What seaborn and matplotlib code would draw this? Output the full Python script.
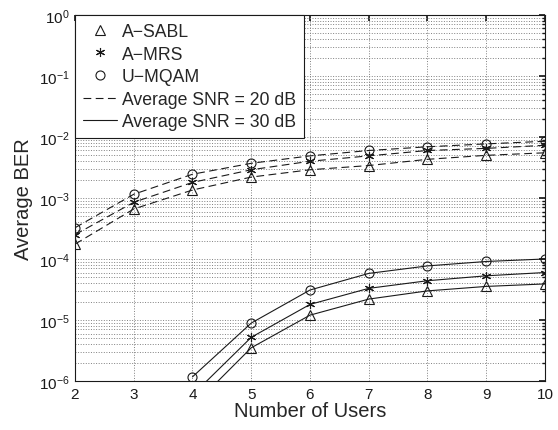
import numpy as np
import pandas as pd
import matplotlib
matplotlib.use("Agg")
import matplotlib.pyplot as plt
import seaborn as sns
from matplotlib.lines import Line2D
from matplotlib.ticker import FixedLocator, NullFormatter, LogFormatterSciNotation

users = [2, 3, 4, 5, 6, 7, 8, 9, 10]
sabl_20 = [1.75e-4, 6.6e-4, 1.35e-3, 2.2e-3, 2.9e-3, 3.4e-3, 4.3e-3, 5.0e-3, 5.5e-3]
mrs_20 = [2.5e-4, 8.5e-4, 1.8e-3, 2.9e-3, 4.0e-3, 4.9e-3, 6.0e-3, 6.5e-3, 7.3e-3]
umqam_20 = [3.25e-4, 1.15e-3, 2.45e-3, 3.7e-3, 4.9e-3, 6.0e-3, 6.9e-3, 7.7e-3, 8.5e-3]

users_30 = [4, 5, 6, 7, 8, 9, 10]
sabl_30 = [3.8e-7, 3.5e-6, 1.2e-5, 2.2e-5, 3.0e-5, 3.55e-5, 3.9e-5]
mrs_30 = [5.9e-7, 5.2e-6, 1.8e-5, 3.3e-5, 4.4e-5, 5.3e-5, 6.0e-5]
umqam_30 = [1.17e-6, 8.9e-6, 3.1e-5, 5.8e-5, 7.7e-5, 9.1e-5, 1.0e-4]

y_exponents = [-6, -5, -4, -3, -2, -1, 0]

schemes = ["A\u2212SABL", "A\u2212MRS", "U\u2212MQAM"]
markers = ["^", (6, 2, 0), "o"]
snr_labels = ["Average SNR = 20 dB", "Average SNR = 30 dB"]

sns.set_theme(style="white")
plt.rcParams["font.family"] = ["Liberation Sans", "DejaVu Sans"]
plt.rcParams["mathtext.fontset"] = "custom"
plt.rcParams["mathtext.rm"] = "Liberation Sans"

fig = plt.figure(figsize=(5.58, 4.31), dpi=100)
ax = fig.add_axes([0.1344, 0.1137, 0.9767 - 0.1344, 0.963 - 0.1137])

DASH = (0, (7, 4))
series20 = [sabl_20, mrs_20, umqam_20]
series30 = [sabl_30, mrs_30, umqam_30]
for vals, m in zip(series20, markers):
    sns.lineplot(x=users, y=vals, ax=ax, color="k", linestyle=DASH, lw=0.8,
                 marker=m, markersize=6.5, markerfacecolor="none",
                 markeredgecolor="k", markeredgewidth=0.8, legend=False)
for vals, m in zip(series30, markers):
    sns.lineplot(x=users_30, y=vals, ax=ax, color="k", linestyle="-", lw=0.8,
                 marker=m, markersize=6.5, markerfacecolor="none",
                 markeredgecolor="k", markeredgewidth=0.8, legend=False)

ax.set_yscale("log")
ax.set_xlim(2, 10)
ax.set_ylim(1e-6, 1)
major_y = [10.0 ** e for e in y_exponents]
minor_y = [k * 10.0 ** e for e in y_exponents[:-1] for k in range(2, 10)]
ax.xaxis.set_major_locator(FixedLocator(users))
ax.yaxis.set_major_locator(FixedLocator(major_y))
ax.yaxis.set_major_formatter(LogFormatterSciNotation())
ax.yaxis.set_minor_locator(FixedLocator(minor_y))
ax.yaxis.set_minor_formatter(NullFormatter())

ax.grid(True, which="major", axis="both", linestyle=":", color="0.5", lw=0.7)
ax.grid(True, which="minor", axis="y", linestyle=":", color="0.5", lw=0.7)

ax.tick_params(which="both", direction="in", top=True, right=True, labelsize=11, colors="k")
ax.tick_params(which="major", length=4, pad=4)
ax.tick_params(which="minor", length=2)
for s in ax.spines.values():
    s.set_color("k")
    s.set_linewidth(0.8)

ax.set_xlabel("Number of Users", fontsize=14.5, labelpad=0)
ax.set_ylabel("Average BER", fontsize=14.5, labelpad=4)

handles = [Line2D([], [], color="k", linestyle="none", marker=m, markersize=6.5,
                  markerfacecolor="none", markeredgewidth=0.8) for m in markers]
handles += [Line2D([], [], color="k", linestyle=DASH, lw=0.8),
            Line2D([], [], color="k", linestyle="-", lw=0.8)]
leg = ax.legend(handles, schemes + snr_labels, loc="upper left", fontsize=12.7, frameon=True,
                fancybox=False, edgecolor="k", framealpha=1, borderaxespad=0, handlelength=1.95,
                labelspacing=0.32, borderpad=0.45, handletextpad=0.25)
leg.get_frame().set_linewidth(0.8)

fig.savefig("out.png", dpi=100)
